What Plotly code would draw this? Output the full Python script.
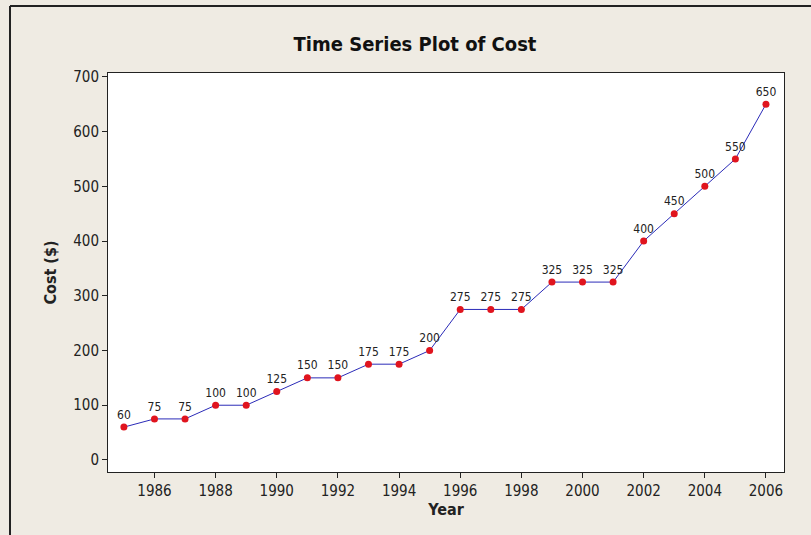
import plotly.graph_objects as go

years = list(range(1985, 2007))
cost = [60, 75, 75, 100, 100, 125, 150, 150, 175, 175, 200, 275, 275, 275,
        325, 325, 325, 400, 450, 500, 550, 650]
x_ticks = list(range(1986, 2007, 2))
y_ticks = [0, 100, 200, 300, 400, 500, 600, 700]

W, H = 811, 535
# plot area in page pixels
PL, PR, PT, PB = 108, 784, 73, 472
L, R, T, B = PL, W - PR, PT, H - PB
pw, ph = PR - PL, PB - PT

def px2x(px):
    return (px - PL) / pw

def py2y(py):
    return (PB - py) / ph

FONT = "DejaVu Sans Condensed, DejaVu Sans"

fig = go.Figure()
fig.add_trace(go.Scatter(
    x=years, y=cost, mode="lines+markers+text",
    line=dict(color="#2b2bb8", width=1),
    marker=dict(color="#e0141e", size=7),
    text=[str(v) for v in cost], textposition="top center",
    textfont=dict(family=FONT, size=12, color="#222"),
    cliponaxis=False, showlegend=False,
))

fig.update_layout(
    width=W, height=H,
    margin=dict(l=L, r=R, t=T, b=B, autoexpand=False),
    paper_bgcolor="#efebe3", plot_bgcolor="#ffffff",
    title=dict(text="<b>Time Series Plot of Cost</b>", xref="container", x=415 / W,
               xanchor="center", yref="container", y=1 - 44 / H, yanchor="middle",
               font=dict(family=FONT, size=20, color="#111")),
    font=dict(family=FONT, color="#222"),
    xaxis=dict(range=[1984.48, 2006.59], tickvals=x_ticks, ticks="outside", ticklen=5,
               tickcolor="#222", showgrid=False, zeroline=False, showline=True,
               linecolor="#222", linewidth=1, mirror=True, automargin=False,
               tickfont=dict(family=FONT, size=15),
               title=dict(text="<b>Year</b>", font=dict(family=FONT, size=16), standoff=2)),
    yaxis=dict(range=[-22, 707], tickvals=y_ticks, ticks="outside", ticklen=5,
               tickcolor="#222", showgrid=False, zeroline=False, showline=True,
               linecolor="#222", linewidth=1, mirror=True, automargin=False,
               tickfont=dict(family=FONT, size=15),
               title=dict(text="<b>Cost ($)</b>", font=dict(family=FONT, size=16), standoff=12)),
    shapes=[
        dict(type="line", xref="paper", yref="paper", x0=px2x(10), x1=px2x(811),
             y0=py2y(6), y1=py2y(6), line=dict(color="#222", width=2)),
        dict(type="line", xref="paper", yref="paper", x0=px2x(10), x1=px2x(10),
             y0=py2y(6), y1=py2y(535), line=dict(color="#222", width=2)),
    ],
)

fig.write_html("out.html",
               config={"displayModeBar": False},
               post_script="document.body.style.margin='0';document.body.style.overflow='hidden';")
